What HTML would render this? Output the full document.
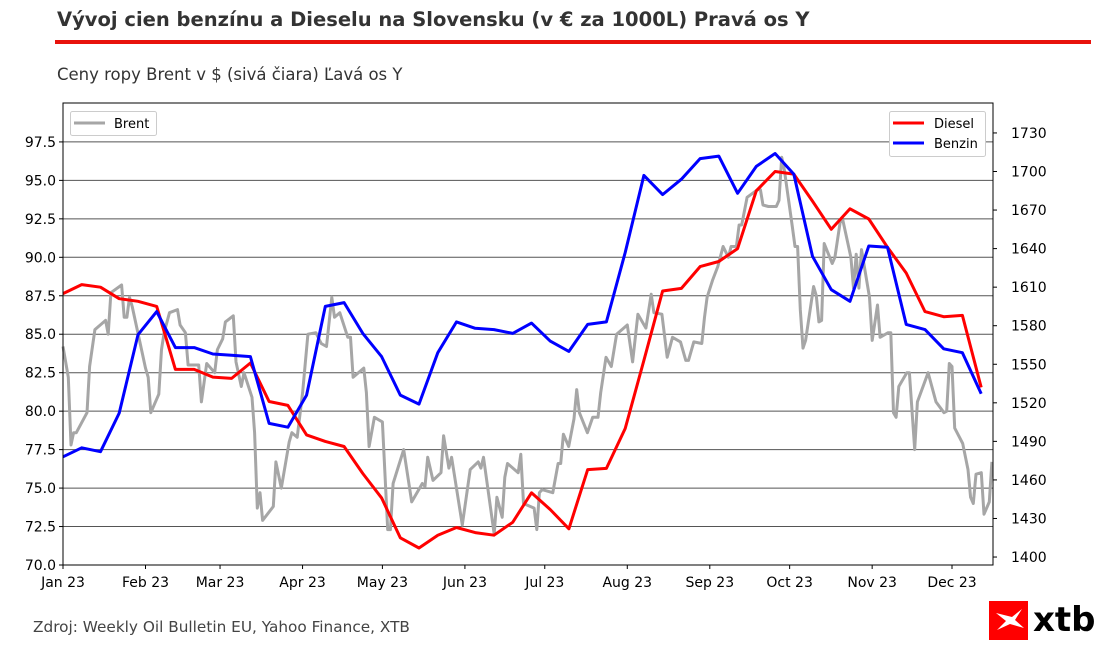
<!DOCTYPE html>
<html><head><meta charset="utf-8">
<style>
html,body{margin:0;padding:0;background:#fff;}
body{width:1099px;height:650px;overflow:hidden;position:relative;font-family:"DejaVu Sans","Liberation Sans",sans-serif;}
svg text{font-family:"DejaVu Sans","Liberation Sans",sans-serif;}
</style></head>
<body>
<svg id="chart" width="1099" height="650" xmlns="http://www.w3.org/2000/svg">
<text x="57" y="26" font-size="19.5" font-weight="bold" fill="#333">Vývoj cien benzínu a Dieselu na Slovensku (v € za 1000L) Pravá os Y</text>
<rect x="55" y="40" width="1036" height="4" fill="#e8120c"/>
<text x="57" y="80" font-size="16.5" fill="#333">Ceny ropy Brent v $ (sivá čiara) Ľavá os Y</text>
<g id="grid"></g>
<g id="series"></g>
<rect x="63" y="103" width="930" height="462" fill="none" stroke="#000" stroke-width="1"/>
<g id="axes"></g>
<g>
<rect x="70.5" y="111.5" width="86" height="24" rx="2" fill="#fff" stroke="#ccc"/>
<line x1="74" y1="123" x2="105" y2="123" stroke="#a6a6a6" stroke-width="3"/>
<text x="114" y="128" font-size="13" fill="#000">Brent</text>
</g>
<g>
<rect x="889.5" y="111.5" width="96" height="45" rx="2" fill="#fff" stroke="#ccc"/>
<line x1="893" y1="123" x2="924" y2="123" stroke="#ff0000" stroke-width="3"/>
<text x="934" y="128" font-size="13" fill="#000">Diesel</text>
<line x1="893" y1="143" x2="924" y2="143" stroke="#0000ff" stroke-width="3"/>
<text x="934" y="148" font-size="13" fill="#000">Benzin</text>
</g>
<text x="33" y="632" font-size="15.3" fill="#444">Zdroj: Weekly Oil Bulletin EU, Yahoo Finance, XTB</text>
<g>
<rect x="989" y="601" width="39" height="39" fill="#f00"/>
<path d="M996 613 L1012 617 L1022 609 L1015 620 L1024 628 L1010 624 L997 630 L1006 621 Z" fill="#fff"/>
<text x="1033" y="631" font-size="34" font-weight="bold" fill="#000">xtb</text>
</g>
</svg>
<script>
const monthLabels=["Jan 23","Feb 23","Mar 23","Apr 23","May 23","Jun 23","Jul 23","Aug 23","Sep 23","Oct 23","Nov 23","Dec 23"];
const monthDays=[0,31,59,90,120,151,181,212,243,273,304,334];
const leftTicks=[70.0,72.5,75.0,77.5,80.0,82.5,85.0,87.5,90.0,92.5,95.0,97.5];
const rightTicks=[1400,1430,1460,1490,1520,1550,1580,1610,1640,1670,1700,1730];
const dieselVals=[1605,1612,1610,1601,1599,1595,1546,1546,1540,1539,1551,1521,1518,1495,1490,1486,1465,1446,1415,1407,1417,1423,1419,1417,1427,1450,1437,1422,1468,1469,1500,1553,1607,1609,1626,1630,1640,1685,1700,1698,1677,1655,1671,1663,1641,1621,1591,1587,1588,1532];
const benzinVals=[1478,1485,1482,1512,1573,1591,1563,1563,1558,1557,1556,1504,1501,1526,1595,1598,1574,1556,1526,1519,1559,1583,1578,1577,1574,1582,1568,1560,1581,1583,1637,1697,1682,1694,1710,1712,1683,1704,1714,1698,1634,1608,1599,1642,1641,1581,1577,1562,1559,1527];
const weekStep=7.04;
const brentDays=[0,2,3,4,5,9,10,12,16,17,18,22,23,24,25,26,31,32,33,36,37,38,40,43,44,46,47,51,52,54,57,58,60,61,64,65,67,68,71,72,73,74,75,79,80,82,85,86,88,90,92,95,97,99,101,102,104,107,108,109,113,114,115,117,120,122,123,124,128,131,135,136,137,139,142,143,145,146,150,153,156,157,158,162,163,165,166,167,171,172,173,177,178,179,180,184,186,187,188,190,192,193,194,197,199,201,202,204,206,208,212,214,216,219,221,222,225,227,229,232,234,235,237,240,241,242,244,246,248,250,251,253,254,255,257,261,262,263,265,268,269,270,271,274,275,276,277,278,279,282,283,284,285,286,289,290,292,293,296,297,298,299,300,303,304,306,307,310,311,312,313,314,317,318,320,321,325,328,331,332,333,334,335,338,340,341,342,343,345,346,348,349];
const brentVals=[84.2,82.2,77.8,78.6,78.6,79.9,82.9,85.3,85.9,85.0,87.7,88.2,86.1,86.1,87.4,86.8,82.8,82.2,79.9,81.1,84.0,85.1,86.4,86.6,85.6,85.1,83.0,83.0,80.6,83.1,82.5,84.0,84.7,85.8,86.2,83.2,81.6,82.5,80.9,78.6,73.7,74.7,72.9,73.8,76.7,75.0,78.0,78.6,78.3,81.2,85.0,85.1,84.4,84.2,87.4,86.1,86.4,84.8,84.8,82.2,82.8,81.2,77.7,79.6,79.3,72.3,72.3,75.3,77.5,74.1,75.3,75.1,77.0,75.5,76.0,78.4,76.3,77.0,72.6,76.2,76.7,76.3,77.0,72.0,74.4,73.1,75.7,76.6,76.0,77.2,74.0,73.7,72.3,74.7,74.9,74.7,76.6,76.6,78.5,77.7,79.5,81.4,79.9,78.6,79.6,79.6,81.2,83.5,82.9,85.0,85.6,83.2,86.3,85.4,87.6,86.4,86.3,83.5,84.8,84.5,83.3,83.3,84.5,84.4,86.1,87.4,88.5,89.4,90.7,90.0,90.7,90.7,92.1,92.1,93.9,94.4,94.4,93.4,93.3,93.3,93.7,96.5,95.7,92.0,90.7,90.7,86.6,84.1,84.6,88.1,87.5,85.8,85.9,90.9,89.6,90.0,92.3,92.4,90.0,88.0,90.2,88.0,90.5,87.4,84.6,86.9,84.8,85.1,85.1,79.9,79.6,81.6,82.5,82.5,77.5,80.6,82.5,80.6,79.9,80.0,83.1,82.9,78.9,77.9,76.2,74.4,74.0,75.9,76.0,73.3,74.1,76.7];

const NS="http://www.w3.org/2000/svg";
const PL=63,PR=993,PT=103,PB=565;
const xMax=349.4, lMin=70, lMax=100.03, rMin=1393.8, rMax=1753.3;
function xs(d){return PL+(d/xMax)*(PR-PL);}
function yl(v){return PB-(v-lMin)/(lMax-lMin)*(PB-PT);}
function yr(v){return PB-(v-rMin)/(rMax-rMin)*(PB-PT);}
function mk(tag,attrs,parent){const e=document.createElementNS(NS,tag);for(const k in attrs)e.setAttribute(k,attrs[k]);parent.appendChild(e);return e;}
const grid=document.getElementById('grid'),axes=document.getElementById('axes'),series=document.getElementById('series');

leftTicks.forEach(v=>{
  const y=yl(v);
  if(v>lMin){const g=mk('line',{x1:PL,x2:PR,y1:y,y2:y,stroke:'#555','stroke-width':1},grid);
  
  }
  mk('line',{x1:PL-4,x2:PL,y1:y,y2:y,stroke:'#000'},axes);
  const t=mk('text',{x:PL-7,y:y+5,'font-size':14,'text-anchor':'end',fill:'#000'},axes);
  t.textContent=v.toFixed(1);
  
  
});
rightTicks.forEach(v=>{
  const y=yr(v);
  mk('line',{x1:PR,x2:PR+4,y1:y,y2:y,stroke:'#000'},axes);
  const t=mk('text',{x:PR+18,y:y+5,'font-size':14,fill:'#000'},axes);
  t.textContent=v;
  
  
});
monthDays.forEach((d,i)=>{
  const x=xs(d);
  mk('line',{x1:x,x2:x,y1:PB,y2:PB+4,stroke:'#000'},axes);
  const t=mk('text',{x:x,y:PB+22,'font-size':14,'text-anchor':'middle',fill:'#000'},axes);
  t.textContent=monthLabels[i];
  
  
});
function line(pts,color,name){
  const p=mk('polyline',{points:pts.map(q=>q[0].toFixed(1)+','+q[1].toFixed(1)).join(' '),fill:'none',stroke:color,'stroke-width':3,'stroke-linejoin':'round'},series);
  
  
}
line(brentVals.map((v,i)=>[xs(brentDays[i]),yl(v)]),'#a6a6a6','brent-line');
line(dieselVals.map((v,i)=>[xs(i*weekStep),yr(v)]),'#ff0000','diesel-line');
line(benzinVals.map((v,i)=>[xs(i*weekStep),yr(v)]),'#0000ff','benzin-line');
</script>
</body></html>
